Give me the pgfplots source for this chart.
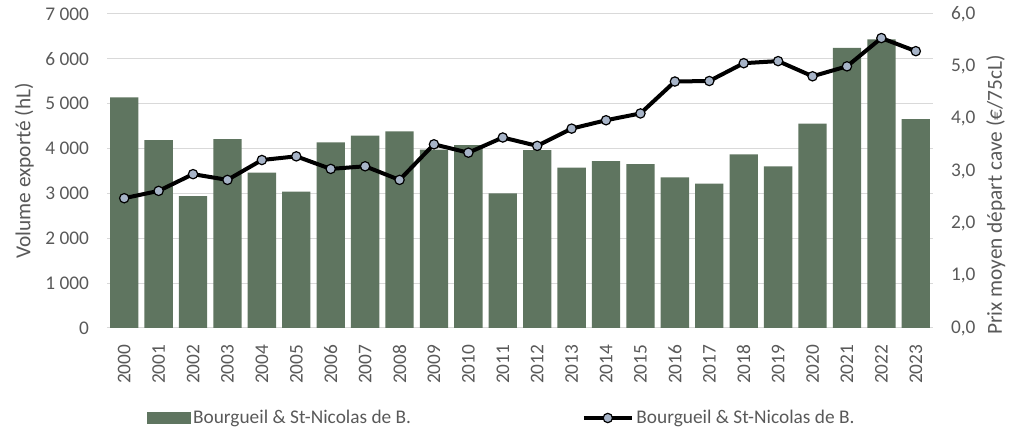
\documentclass[border=0pt]{standalone}
\usepackage{pgfplots}
\pgfplotsset{compat=1.18}
\usepackage{fontspec}
\setmainfont{Carlito}
\definecolor{barcol}{HTML}{5F7560}
\definecolor{markcol}{HTML}{A7B4C8}
\definecolor{gridcol}{HTML}{D9D9D9}
\definecolor{txtcol}{HTML}{595959}
\begin{document}
\begin{tikzpicture}[x=1pt,y=1pt]
\path[use as bounding box] (-80.25pt,-77.25pt) rectangle (676.5pt,246pt);
\pgfplotsset{
  common/.style={
    scale only axis, width=619.5pt, height=235.5pt,
    at={(0pt,0pt)}, anchor=south west,
    xmin=-0.5, xmax=23.5,
    tick style={draw=none},
    major tick length=0pt,
    ticklabel style={font=\fontsize{14.5}{17}\selectfont, text=txtcol},
    label style={font=\fontsize{16}{19}\selectfont, text=txtcol},
  }
}
\begin{axis}[common,
  ymin=0, ymax=7000,
  ytick={0,1000,2000,3000,4000,5000,6000,7000},
  yticklabels={0,1 000,2 000,3 000,4 000,5 000,6 000,7 000},
  yticklabel style={anchor=east, xshift=-10pt},
  xtick={0,...,23},
  xticklabels={2000,2001,2002,2003,2004,2005,2006,2007,2008,2009,2010,2011,2012,2013,2014,2015,2016,2017,2018,2019,2020,2021,2022,2023},
  xticklabel style={rotate=90, anchor=east, xshift=-9pt},
  ymajorgrids, grid style={gridcol, line width=0.75pt},
  axis line style={draw=none},
  ylabel={Volume exporté (hL)},
  ylabel style={at={(axis description cs:-0.1,0.5)}, anchor=center},
  ybar, bar width=21.2pt,
]
\addplot[fill=barcol, draw=none] coordinates {
(0,5140) (1,4190) (2,2942) (3,4213) (4,3462) (5,3038) (6,4138) (7,4287)
(8,4383) (9,3975) (10,4079) (11,3001) (12,3968) (13,3573) (14,3722) (15,3656)
(16,3357) (17,3217) (18,3870) (19,3603) (20,4554) (21,6242) (22,6434) (23,4659)
};
\end{axis}
\begin{axis}[common,
  clip=false,
  ymin=0, ymax=6,
  axis y line*=right, axis x line=none,
  axis line style={draw=none},
  ytick={0,1,2,3,4,5,6},
  yticklabels={{0,0},{1,0},{2,0},{3,0},{4,0},{5,0},{6,0}},
  yticklabel style={anchor=west, xshift=10pt},
  xtick=\empty,
  legend columns=2,
  legend style={draw=none, fill=none, inner sep=0pt,
    at={(axis description cs:0,0)}, anchor=west, xshift=30pt, yshift=-67.5pt,
    font=\fontsize{14.5}{17}\selectfont, text=txtcol,
    /tikz/every even column/.append style={column sep=126pt},
    nodes={inner sep=2pt}},
]
\addlegendimage{legend image code/.code={\fill[barcol] (0pt,-4pt) rectangle (32pt,4pt);}}
\addlegendentry{Bourgueil \& St-Nicolas de B.}
\addplot[black, line width=3pt, mark=*, mark size=3.5pt,
  mark options={fill=markcol, draw=black, line width=0.9pt},
  legend image code/.code={\draw[black, line width=3pt] (0pt,0pt) -- (36pt,0pt);
    \draw[fill=markcol, draw=black, line width=0.9pt] (18pt,0pt) circle (3.5pt);}]
coordinates {
(0,2.48) (1,2.62) (2,2.94) (3,2.83) (4,3.21) (5,3.28) (6,3.04) (7,3.09)
(8,2.83) (9,3.51) (10,3.35) (11,3.64) (12,3.48) (13,3.81) (14,3.97) (15,4.10)
(16,4.71) (17,4.72) (18,5.06) (19,5.10) (20,4.81) (21,5.00) (22,5.54) (23,5.29)
};
\addlegendentry{Bourgueil \& St-Nicolas de B.}
\node[rotate=90, anchor=east, font=\fontsize{16}{19}\selectfont, text=txtcol, inner sep=0pt]
  at (rel axis cs:1.076,0.869) {Prix moyen départ cave (€/75cL)};
\end{axis}
\end{tikzpicture}
\end{document}
